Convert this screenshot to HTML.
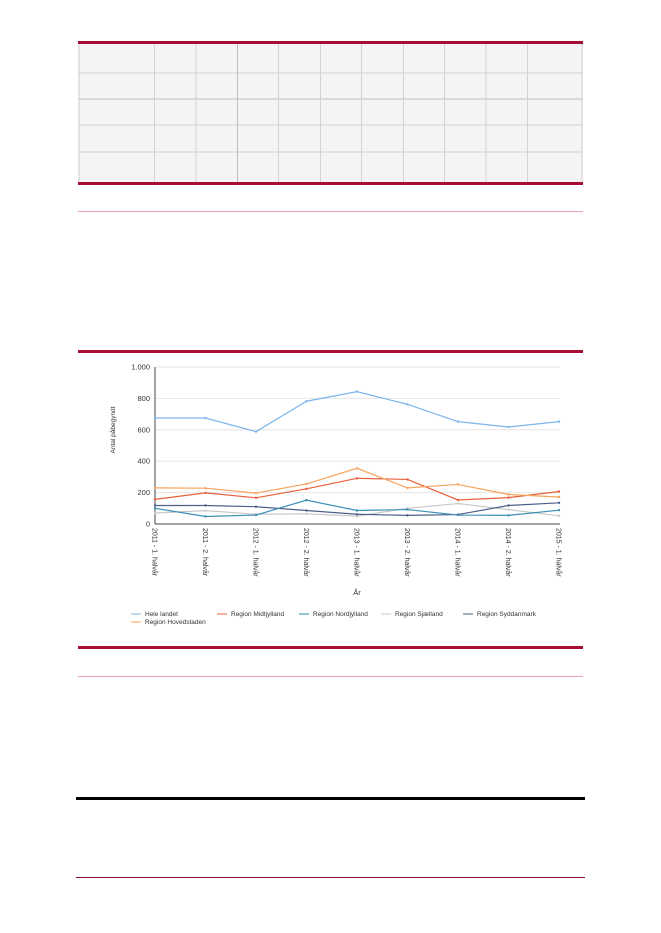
<!DOCTYPE html>
<html><head><meta charset="utf-8"><style>
body{margin:0;width:661px;height:933px;background:#fff;position:relative;font-family:"Liberation Sans",sans-serif;overflow:hidden}
</style></head><body>
<svg id="s" width="661" height="933" xmlns="http://www.w3.org/2000/svg" style="position:absolute;left:0;top:0">
<rect x="78" y="43" width="505" height="140" fill="#f4f4f4"/>
<g stroke="#d2d2d2" stroke-width="1">
<line x1="78" y1="73" x2="583" y2="73"/><line x1="78" y1="99" x2="583" y2="99" stroke="#bdbdbd"/>
<line x1="78" y1="125" x2="583" y2="125"/><line x1="78" y1="152" x2="583" y2="152" stroke="#e2e2e2" stroke-width="2"/>
<line x1="79" y1="43" x2="79" y2="183"/><line x1="582" y1="43" x2="582" y2="183"/>
<line x1="154.5" y1="43" x2="154.5" y2="183"/><line x1="196" y1="43" x2="196" y2="183"/><line x1="237.5" y1="43" x2="237.5" y2="183" stroke="#bdbdbd"/>
<line x1="278.5" y1="43" x2="278.5" y2="183"/><line x1="320.5" y1="43" x2="320.5" y2="183"/><line x1="361.5" y1="43" x2="361.5" y2="183"/>
<line x1="403.5" y1="43" x2="403.5" y2="183"/><line x1="444.5" y1="43" x2="444.5" y2="183"/><line x1="486" y1="43" x2="486" y2="183"/><line x1="527.5" y1="43" x2="527.5" y2="183"/>
</g>
<rect x="78" y="41" width="505" height="3" fill="#a50d32"/>
<rect x="78" y="182" width="505" height="3" fill="#a50d32"/>
<rect x="78" y="211" width="505" height="1" fill="#e8a3b3"/>
<rect x="78" y="350" width="505" height="3" fill="#a50d32"/>
<rect x="78" y="646" width="505" height="3" fill="#a50d32"/>
<rect x="78" y="676" width="505" height="1" fill="#e8a3b3"/>
<rect x="76" y="797" width="509" height="3" fill="#000"/>
<rect x="76" y="877" width="509" height="1" fill="#8a0f2c"/>
<g id="grid" stroke="#e6e6e6"></g>
<line x1="155" y1="367" x2="155" y2="524" stroke="#444"/>
<line x1="155" y1="524" x2="560" y2="524" stroke="#444"/>
<g id="lab" font-size="7.5" fill="#333"></g>
<text x="115" y="445" font-size="6.5" fill="#333" transform="rotate(-90 115 445)" text-anchor="middle" dx="15">Antal påbegyndt</text>
<text x="357" y="595" font-size="7.5" fill="#333" text-anchor="middle">År</text>
<g id="ser"></g>
<g font-size="6.5" fill="#333">
<line x1="131" y1="614" x2="141" y2="614" stroke="#7cb5ec"/><text x="145" y="616">Hele landet</text>
<line x1="217" y1="614" x2="227" y2="614" stroke="#e8603c"/><text x="231" y="616">Region Midtjylland</text>
<line x1="299" y1="614" x2="309" y2="614" stroke="#3a8fb7"/><text x="313" y="616">Region Nordjylland</text>
<line x1="381" y1="614" x2="391" y2="614" stroke="#c8c8c8"/><text x="395" y="616">Region Sjælland</text>
<line x1="463" y1="614" x2="473" y2="614" stroke="#4a5f8a"/><text x="477" y="616">Region Syddanmark</text>
<line x1="131" y1="622" x2="141" y2="622" stroke="#f7a35c"/><text x="145" y="624">Region Hovedstaden</text>
</g>
</svg>
<script>
var NS="http://www.w3.org/2000/svg";
function el(p,t,a,txt){var e=document.createElementNS(NS,t);for(var k in a)e.setAttribute(k,a[k]);if(txt)e.textContent=txt;document.getElementById(p).appendChild(e);}
function Y(v){return 524-0.157*v}
var ticks=[0,200,400,600,800,1000],tl=["0","200","400","600","800","1.000"];
ticks.forEach(function(t,i){if(t>0)el("grid","line",{x1:155,x2:560,y1:Y(t),y2:Y(t)});el("lab","text",{x:150,y:Y(t)+2.5,"text-anchor":"end"},tl[i]);});
var xl=["2011 - 1. halvår","2011 - 2. halvår","2012 - 1. halvår","2012 - 2. halvår","2013 - 1. halvår","2013 - 2. halvår","2014 - 1. halvår","2014 - 2. halvår","2015 - 1. halvår"];
xl.forEach(function(s,i){var x=155+50.5*i;el("lab","text",{x:x-2.5,y:528,transform:"rotate(90 "+(x-2.5)+" 528)","font-size":"7"},s);});
var S=[["#c8c8c8",[70,85,62,65,50,100,130,92,52]],["#4a5f8a",[118,118,110,86,62,55,60,118,135]],["#3a8fb7",[100,48,57,152,86,92,57,55,88]],["#e8603c",[157,198,167,224,291,284,153,168,207]],["#f7a35c",[230,228,197,255,355,230,252,188,172]],["#7cb5ec",[675,675,588,782,843,762,652,618,652]]];
S.forEach(function(s){var p=s[1].map(function(v,i){return (155+50.5*i)+","+Y(v)}).join(" ");el("ser","polyline",{points:p,fill:"none",stroke:s[0],"stroke-width":1.2});s[1].forEach(function(v,i){el("ser","circle",{cx:155+50.5*i,cy:Y(v),r:1.2,fill:s[0]});});});
</script>
</body></html>
